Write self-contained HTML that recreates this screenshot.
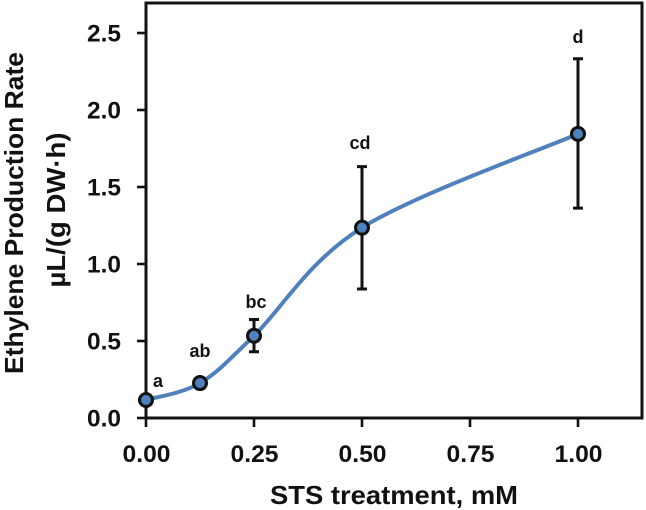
<!DOCTYPE html>
<html>
<head>
<meta charset="utf-8">
<style>
html,body{margin:0;padding:0;background:#fff;}
svg{display:block;filter:blur(0.35px);}
text{font-family:"Liberation Sans",sans-serif;font-weight:bold;fill:#111;}
</style>
</head>
<body>
<svg id="chart" width="646" height="510" viewBox="0 0 646 510" xmlns="http://www.w3.org/2000/svg">
<rect x="146" y="3" width="496" height="415" fill="#fff" stroke="#111" stroke-width="3"/>
<text transform="translate(23,213) rotate(-90)" text-anchor="middle" font-size="26" textLength="322" lengthAdjust="spacingAndGlyphs">Ethylene Production Rate</text>
<text transform="translate(65,210) rotate(-90)" text-anchor="middle" font-size="26" textLength="155" lengthAdjust="spacingAndGlyphs">µL/(g DW·h)</text>
<text x="394" y="504" text-anchor="middle" font-size="26" textLength="248" lengthAdjust="spacingAndGlyphs">STS treatment, mM</text>
<g id="axes"></g>
<g id="marks"></g>
</svg>
<script>
const xValues = [0, 0.125, 0.25, 0.5, 1];
const yValues = [0.117, 0.227, 0.534, 1.236, 1.845];
const errUpper = [null, null, 0.64, 1.632, 2.333];
const errLower = [null, null, 0.43, 0.838, 1.363];
const sigLabels = ['a', 'ab', 'bc', 'cd', 'd'];
const sigLabelValues = [0.2, 0.396, 0.714, 1.747, 2.435];
const xTicks = ['0.00', '0.25', '0.50', '0.75', '1.00'];
const yTicks = ['0.0', '0.5', '1.0', '1.5', '2.0', '2.5'];

const NS = 'http://www.w3.org/2000/svg';
const sx = v => 146 + v * 432;
const sy = v => 418 - v * 154;
const axes = document.getElementById('axes');
const marks = document.getElementById('marks');

function make(parent, tag, attrs, txt) {
  const el = document.createElementNS(NS, tag);
  for (const k in attrs) el.setAttribute(k, attrs[k]);
  if (txt !== undefined) el.textContent = txt;
  parent.appendChild(el);
  return el;
}

xTicks.forEach(t => {
  const x = sx(parseFloat(t));
  const tick = make(axes, 'line', {x1: x, x2: x, y1: 418, y2: 427, stroke: '#111', 'stroke-width': 2.6});
  
  
  const lab = make(axes, 'text', {x: x + 0.5, y: 462, 'text-anchor': 'middle', 'font-size': 24, textLength: 48, lengthAdjust: 'spacingAndGlyphs'}, t);
  
  
});

yTicks.forEach(t => {
  const y = sy(parseFloat(t));
  const tick = make(axes, 'line', {x1: 137, x2: 146, y1: y, y2: y, stroke: '#111', 'stroke-width': 2.6});
  
  
  const lab = make(axes, 'text', {x: 121, y: y + 8.5, 'text-anchor': 'end', 'font-size': 24, textLength: 34, lengthAdjust: 'spacingAndGlyphs'}, t);
  
  
});

const pts = xValues.map((v, i) => [sx(v), sy(yValues[i])]);
let d = 'M' + pts[0][0] + ',' + pts[0][1];
for (let i = 0; i < pts.length - 1; i++) {
  const p0 = pts[Math.max(i - 1, 0)];
  const p1 = pts[i];
  const p2 = pts[i + 1];
  const p3 = pts[Math.min(i + 2, pts.length - 1)];
  const c1x = p1[0] + (p2[0] - p0[0]) / 6;
  const c1y = p1[1] + (p2[1] - p0[1]) / 6;
  const c2x = p2[0] - (p3[0] - p1[0]) / 6;
  const c2y = p2[1] - (p3[1] - p1[1]) / 6;
  d += ' C' + c1x + ',' + c1y + ' ' + c2x + ',' + c2y + ' ' + p2[0] + ',' + p2[1];
}
const curve = make(marks, 'path', {d: d, fill: 'none', stroke: '#4f81bd', 'stroke-width': 4});



xValues.forEach((v, i) => {
  if (errUpper[i] === null) return;
  const x = sx(v);
  const bar = make(marks, 'path', {
    d: 'M' + x + ',' + sy(errUpper[i]) + ' V' + sy(errLower[i]) +
       ' M' + (x - 5) + ',' + sy(errUpper[i]) + ' H' + (x + 5) +
       ' M' + (x - 5) + ',' + sy(errLower[i]) + ' H' + (x + 5),
    fill: 'none', stroke: '#111', 'stroke-width': 3
  });
  
  
});

xValues.forEach((v, i) => {
  const pt = make(marks, 'circle', {cx: sx(v), cy: sy(yValues[i]), r: 6.5, fill: '#4f81bd', stroke: '#111', 'stroke-width': 3});
  
  
});

sigLabels.forEach((s, i) => {
  const offset = i === 0 ? 12 : (i === 2 ? 2 : (i === 3 ? -2 : 0));
  const lab = make(marks, 'text', {x: sx(xValues[i]) + offset, y: sy(sigLabelValues[i]), 'text-anchor': 'middle', 'font-size': 18}, s);
  
  
});
</script>
</body>
</html>
